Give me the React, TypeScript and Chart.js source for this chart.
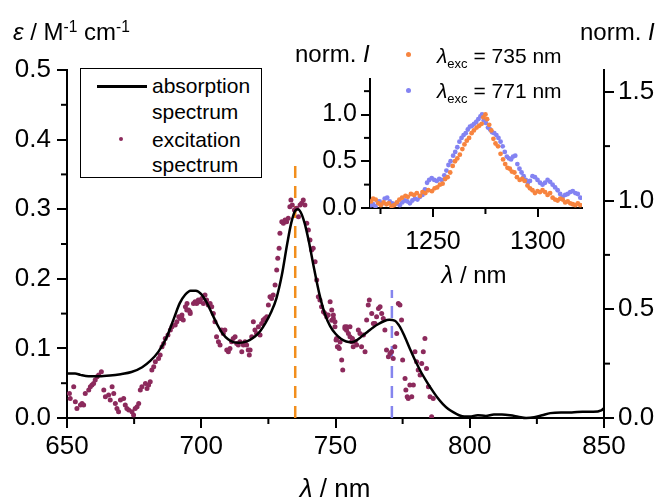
import React, { useEffect, useRef } from 'react';
import { Chart, registerables } from 'chart.js';
Chart.register(...registerables);

// ---------- main plot data ----------
const absWl = [650, 653, 655, 658, 662, 666, 670, 674, 678, 681, 684, 687, 690, 692, 694, 696, 698, 700, 702, 704, 706, 708, 710, 712, 714, 716, 718, 720, 722, 724, 726, 728, 730, 732, 733.5, 735, 736, 737, 738.5, 740, 742, 744, 746, 748, 750, 752, 754, 756, 758, 760, 762, 764, 766, 768, 770, 772, 774, 776, 778, 780, 782, 784, 786, 788, 790, 792, 794, 796, 798, 800, 803, 806, 809, 812, 815, 818, 821, 824, 827, 830, 834, 838, 842, 846, 849, 850];
const absEps = [0.064, 0.064, 0.062, 0.060, 0.060, 0.061, 0.063, 0.066, 0.073, 0.082, 0.095, 0.115, 0.145, 0.165, 0.177, 0.183, 0.183, 0.178, 0.166, 0.150, 0.134, 0.121, 0.113, 0.109, 0.108, 0.109, 0.112, 0.117, 0.125, 0.137, 0.152, 0.172, 0.205, 0.250, 0.280, 0.298, 0.300, 0.296, 0.280, 0.255, 0.215, 0.178, 0.150, 0.132, 0.121, 0.114, 0.110, 0.109, 0.112, 0.118, 0.124, 0.130, 0.135, 0.139, 0.141, 0.140, 0.131, 0.115, 0.097, 0.080, 0.065, 0.052, 0.040, 0.029, 0.020, 0.013, 0.008, 0.004, 0.002, 0.002, 0.004, 0.003, 0.005, 0.005, 0.004, 0.002, 0.000, 0.001, 0.004, 0.007, 0.008, 0.008, 0.009, 0.009, 0.011, 0.014];

const excWl = [650.9, 651.2, 652.5, 653.1, 653.7, 655.0, 655.6, 656.2, 656.8, 658.1, 658.7, 659.3, 659.9, 660.5, 661.2, 661.8, 662.8, 663.7, 664.3, 665.5, 666.1, 666.8, 667.4, 668.0, 668.6, 669.2, 669.9, 671.1, 671.7, 672.3, 673.0, 674.2, 674.8, 675.4, 676.1, 676.7, 677.3, 677.9, 679.2, 679.8, 680.4, 681.0, 681.6, 682.3, 682.9, 684.1, 684.7, 685.4, 686.0, 686.6, 687.6, 688.5, 689.1, 690.3, 690.9, 691.6, 692.2, 692.8, 694.1, 694.7, 695.3, 695.9,
  692.7, 693.3, 694.6, 695.8, 697.1, 697.7, 698.3, 698.9, 699.5, 700.2, 700.8, 701.4, 702.0, 702.6, 703.3, 703.9, 704.5, 705.1, 705.7, 706.4, 707.0, 707.6, 708.2, 708.8, 709.5, 710.1, 710.7, 711.3, 711.9, 712.6, 713.2, 713.8, 714.4, 715.1, 715.7, 716.3, 716.9, 717.5, 717.9, 718.2, 718.8, 719.4, 720.0, 720.6, 721.3, 721.9, 722.5, 723.1, 723.7, 724.4, 725.0, 725.6, 726.2, 726.8, 727.5,
  728.1, 728.5, 729.0, 729.3, 730.0, 730.6, 731.2, 731.8, 732.4, 733.0, 733.4, 733.9, 734.7, 735.5, 736.2, 736.8, 737.4, 738.0, 738.6, 739.3, 739.9, 740.5, 741.1, 741.7, 742.4, 743.0, 743.6, 744.2, 744.8, 745.5, 746.1, 746.7, 747.3, 748.6, 749.2, 749.8, 750.4, 751.0, 751.7, 753.5, 754.1, 755.4, 756.3,
  748.0, 748.6, 749.2, 749.8, 750.2, 750.7, 751.4, 752.3, 752.7, 753.5, 754.2, 754.8, 755.4, 756.0, 756.6, 757.3, 757.9, 758.5, 759.1, 759.7, 760.4, 761.0, 761.6, 762.2, 762.6, 763.5, 764.1, 764.7, 765.3, 766.0, 766.6, 767.2, 767.8, 768.4, 769.0, 769.7, 770.3, 770.9, 771.5, 772.1, 772.8, 773.4, 774.0, 774.6, 775.0, 775.9, 776.2, 776.7, 777.1, 777.7, 778.4, 779.0, 779.6, 780.2, 780.8, 781.5, 782.1, 782.7, 783.3, 783.9, 784.6, 785.2, 785.8, 786.4];
const excNorm = [0.113, 0.090, 0.144, 0.075, 0.044, 0.060, 0.067, 0.060, 0.113, 0.129, 0.144, 0.152, 0.159, 0.175, 0.190, 0.198, 0.213, 0.129, 0.098, 0.106, 0.083, 0.144, 0.113, 0.067, 0.044, 0.029, 0.083, 0.090, 0.060, 0.044, 0.037, 0.029, 0.014, 0.044, 0.052, 0.067, 0.129, 0.144, 0.159, 0.136, 0.152, 0.167, 0.221, 0.236, 0.259, 0.274, 0.290, 0.328, 0.343, 0.366, 0.382, 0.405, 0.420, 0.428, 0.443, 0.466, 0.458, 0.474, 0.512, 0.527, 0.497, 0.481,
  0.466, 0.451, 0.497, 0.489, 0.527, 0.535, 0.527, 0.543, 0.535, 0.550, 0.527, 0.566, 0.543, 0.520, 0.527, 0.512, 0.481, 0.443, 0.374, 0.351, 0.336, 0.405, 0.389, 0.405, 0.313, 0.305, 0.320, 0.351, 0.366, 0.374, 0.343, 0.336, 0.351, 0.305, 0.336, 0.351, 0.336, 0.313, 0.290, 0.313, 0.374, 0.443, 0.405, 0.389, 0.420, 0.382, 0.435, 0.451, 0.458, 0.466, 0.520, 0.558, 0.550, 0.566, 0.612,
  0.680, 0.734, 0.780, 0.849, 0.902, 0.895, 0.910, 0.902, 0.918, 0.971, 1.002, 0.979, 0.956, 0.964, 0.925, 0.979, 0.987, 1.002, 0.979, 0.895, 0.864, 0.818, 0.772, 0.780, 0.718, 0.634, 0.557, 0.542, 0.511, 0.488, 0.481, 0.465, 0.473, 0.450, 0.458, 0.419, 0.366, 0.327, 0.350, 0.419, 0.404, 0.373, 0.366,
  0.535, 0.497, 0.474, 0.443, 0.359, 0.328, 0.320, 0.267, 0.221, 0.412, 0.420, 0.389, 0.420, 0.351, 0.328, 0.351, 0.336, 0.405, 0.389, 0.328, 0.382, 0.305, 0.451, 0.520, 0.543, 0.481, 0.435, 0.435, 0.466, 0.504, 0.512, 0.481, 0.458, 0.405, 0.313, 0.282, 0.297, 0.305, 0.274, 0.328, 0.389, 0.527, 0.520, 0.451, 0.267, 0.182, 0.129, 0.098, 0.090, 0.152, 0.098, 0.152, 0.305, 0.259, 0.221, 0.198, 0.251, 0.305, 0.366, 0.228, 0.144, 0.098, 0.006, 0.090];

// excitation wavelengths marked with dashed lines: [wavelength, top of line in ε units]
const markWl = [735, 771];
const markTop = [0.37, 0.184];
const markColors = ['#f28e1c', '#8585ee'];

const xMajor = [650, 700, 750, 800, 850];
const xMinor = [675, 725, 775, 825];
const yMajor = [0, 0.1, 0.2, 0.3, 0.4, 0.5];
const yMinor = [0.05, 0.15, 0.25, 0.35, 0.45];
const y2Major = [0, 0.5, 1.0, 1.5];
const y2Minor = [0.25, 0.75, 1.25];

// ---------- inset data ----------
const em735Wl = [1220.5, 1221.5, 1222.7, 1224.0, 1225.2, 1226.5, 1227.8, 1229.0, 1230.3, 1231.5, 1232.8, 1234.0, 1235.3, 1236.9, 1238.0, 1239.5, 1241.0, 1242.3, 1243.8, 1245.0, 1246.4, 1247.8, 1249.5, 1250.8, 1252.0, 1253.3, 1254.6, 1255.8, 1257.0, 1258.2, 1259.4, 1260.5, 1261.6, 1262.8, 1264.0, 1265.0, 1266.1, 1267.2, 1268.4, 1269.5, 1270.8, 1272.0, 1273.2, 1274.0, 1275.0, 1275.8, 1276.8, 1277.8, 1278.8, 1279.8, 1281.0, 1282.2, 1283.4, 1284.4, 1285.5, 1286.6, 1287.6, 1288.8, 1290.0, 1291.3, 1292.5, 1293.7, 1295.0, 1296.2, 1297.4, 1298.6, 1299.8, 1301.0, 1302.2, 1303.4, 1304.6, 1305.8, 1307.0, 1308.2, 1309.4, 1310.6, 1311.8, 1313.0, 1314.2, 1315.4, 1316.6, 1317.8, 1319.0, 1320.2];
const em735 = [0.07, 0.10, 0.09, 0.05, 0.03, 0.06, 0.04, 0.05, 0.02, 0.03, 0.06, 0.09, 0.11, 0.13, 0.12, 0.15, 0.14, 0.16, 0.13, 0.17, 0.16, 0.19, 0.18, 0.21, 0.22, 0.25, 0.26, 0.31, 0.33, 0.38, 0.45, 0.50, 0.53, 0.57, 0.63, 0.68, 0.72, 0.75, 0.80, 0.83, 0.86, 0.88, 0.90, 0.97, 1.00, 0.95, 0.89, 0.83, 0.74, 0.69, 0.66, 0.58, 0.52, 0.47, 0.43, 0.42, 0.39, 0.38, 0.33, 0.30, 0.31, 0.29, 0.24, 0.21, 0.19, 0.16, 0.18, 0.17, 0.19, 0.17, 0.14, 0.16, 0.11, 0.09, 0.08, 0.10, 0.09, 0.06, 0.07, 0.05, 0.04, 0.03, 0.05, 0.03];
const em771Wl = [1220.5, 1221.4, 1222.6, 1223.6, 1224.6, 1225.8, 1227.0, 1228.2, 1229.4, 1230.6, 1231.8, 1233.0, 1234.2, 1235.4, 1236.6, 1237.8, 1239.0, 1240.2, 1241.4, 1242.6, 1243.8, 1245.0, 1246.2, 1247.2, 1248.2, 1249.4, 1250.6, 1251.8, 1253.0, 1254.2, 1255.4, 1256.4, 1257.4, 1258.4, 1259.6, 1260.6, 1261.6, 1262.6, 1263.6, 1264.6, 1265.6, 1266.6, 1267.6, 1268.6, 1269.6, 1270.6, 1271.6, 1272.6, 1273.4, 1274.2, 1275.2, 1276.2, 1277.2, 1278.2, 1279.2, 1280.2, 1281.2, 1282.2, 1283.2, 1284.2, 1285.2, 1286.2, 1287.2, 1288.2, 1289.2, 1290.2, 1291.2, 1292.2, 1293.2, 1294.2, 1295.2, 1296.2, 1297.4, 1298.6, 1299.8, 1301.0, 1302.2, 1303.4, 1304.6, 1305.8, 1307.0, 1308.2, 1309.4, 1310.6, 1311.8, 1313.0, 1314.2, 1315.4, 1316.6, 1317.8, 1319.0, 1320.2];
const em771 = [0.03, 0.04, 0.02, 0.07, 0.07, 0.05, 0.10, 0.11, 0.07, 0.05, 0.04, 0.05, 0.03, 0.06, 0.08, 0.07, 0.05, 0.08, 0.10, 0.09, 0.12, 0.14, 0.20, 0.27, 0.30, 0.32, 0.30, 0.29, 0.31, 0.30, 0.35, 0.40, 0.46, 0.50, 0.56, 0.60, 0.65, 0.71, 0.75, 0.78, 0.80, 0.84, 0.87, 0.88, 0.90, 0.92, 0.95, 0.98, 1.00, 0.94, 0.91, 0.86, 0.84, 0.81, 0.80, 0.78, 0.75, 0.71, 0.66, 0.60, 0.55, 0.53, 0.52, 0.55, 0.56, 0.47, 0.42, 0.38, 0.34, 0.30, 0.27, 0.29, 0.34, 0.33, 0.30, 0.27, 0.25, 0.27, 0.30, 0.28, 0.25, 0.22, 0.19, 0.15, 0.12, 0.14, 0.15, 0.17, 0.18, 0.16, 0.15, 0.11];

const inXMajor = [1250, 1300];
const inXMinor = [1225, 1275];
const inYMajor = [0, 0.5, 1.0];
const inYMinor = [0.25, 0.75, 1.25];

const FONT = "'Liberation Sans', Arial, sans-serif";
const MAROON = '#8c2a5c';
const ORANGE = '#f7843f';
const PURPLE = '#8383f2';

const minorTicks = {
  id: 'minorTicks',
  afterDraw(chart: any, _args: any, opts: any) {
    const ctx = chart.ctx;
    ctx.save();
    ctx.strokeStyle = '#000';
    ctx.lineWidth = 2;
    for (const s of opts.specs || []) {
      const sc = chart.scales[s.id];
      for (const v of s.values) {
        const p = sc.getPixelForValue(v);
        ctx.beginPath();
        if (s.side === 'bottom') { ctx.moveTo(p, sc.top); ctx.lineTo(p, sc.top + s.len); }
        else if (s.side === 'left') { ctx.moveTo(sc.right, p); ctx.lineTo(sc.right - s.len, p); }
        else { ctx.moveTo(sc.left, p); ctx.lineTo(sc.left + s.len, p); }
        ctx.stroke();
      }
    }
    ctx.restore();
  },
};

function axisStyle(tickLen: number, size: number, pad: number, fmt: (v: number) => string) {
  return {
    grid: { display: true, drawOnChartArea: false, drawTicks: true, tickLength: tickLen, lineWidth: 2, color: '#000' },
    border: { display: true, color: '#000', width: 2 },
    ticks: { color: '#000', font: { family: FONT, size }, padding: pad, maxRotation: 0, autoSkip: false, callback: (v: any) => fmt(Number(v)) },
  };
}
const int = (v: number) => String(Math.round(v));
const one = (v: number) => v.toFixed(1);

const abs = (p: any) => ({ position: 'absolute', ...p });

export default function App() {
  const mainRef = useRef<HTMLCanvasElement>(null);
  const insetRef = useRef<HTMLCanvasElement>(null);

  useEffect(() => {
    const markSets = markWl.map((w, i) => ({
      type: 'line',
      data: [{ x: w, y: 0 }, { x: w, y: markTop[i] }],
      borderColor: markColors[i],
      borderWidth: 2.5,
      borderDash: [12, 8],
      pointRadius: 0,
      yAxisID: 'y',
      clip: false,
    }));
    const main = new Chart(mainRef.current!, {
      type: 'scatter',
      data: {
        datasets: [
          {
            type: 'line',
            data: absWl.map((w, i) => ({ x: w, y: absEps[i] })),
            borderColor: '#000',
            borderWidth: 2.5,
            pointRadius: 0,
            cubicInterpolationMode: 'monotone',
            yAxisID: 'y',
            clip: 4,
          },
          {
            type: 'scatter',
            data: excWl.map((w, i) => ({ x: w, y: excNorm[i] })),
            backgroundColor: MAROON,
            borderColor: MAROON,
            borderWidth: 0,
            pointRadius: 2.5,
            yAxisID: 'y2',
          },
          ...markSets,
        ] as any,
      },
      options: {
        responsive: false,
        animation: false,
        layout: { padding: { top: 70, left: 0, right: 0, bottom: 0 } },
        plugins: {
          legend: { display: false },
          tooltip: { enabled: false },
          minorTicks: {
            specs: [
              { id: 'x', values: xMinor, side: 'bottom', len: 6 },
              { id: 'y', values: yMinor, side: 'left', len: 6 },
              { id: 'y2', values: y2Minor, side: 'right', len: 6 },
            ],
          },
        } as any,
        scales: {
          x: {
            type: 'linear', min: 650, max: 850, position: 'bottom',
            ...axisStyle(10, 26, 3, int),
            afterBuildTicks: (a: any) => { a.ticks = xMajor.map((v) => ({ value: v })); },
            afterFit: (a: any) => { a.height = 83; },
          },
          y: {
            type: 'linear', min: 0, max: 0.5, position: 'left',
            ...axisStyle(10, 26, 6, one),
            afterBuildTicks: (a: any) => { a.ticks = yMajor.map((v) => ({ value: v })); },
            afterFit: (a: any) => { a.width = 67; },
          },
          y2: {
            type: 'linear', min: 0, max: 1.6, position: 'right',
            ...axisStyle(10, 26, 4, one),
            afterBuildTicks: (a: any) => { a.ticks = y2Major.map((v) => ({ value: v })); },
            afterFit: (a: any) => { a.width = 63; },
          },
        },
      } as any,
      plugins: [minorTicks],
    });

    const inset = new Chart(insetRef.current!, {
      type: 'scatter',
      data: {
        datasets: [
          {
            data: em735Wl.map((w, i) => ({ x: w, y: em735[i] })),
            backgroundColor: ORANGE, borderWidth: 0, pointRadius: 2.4,
          },
          {
            data: em771Wl.map((w, i) => ({ x: w, y: em771[i] })),
            backgroundColor: PURPLE, borderWidth: 0, pointRadius: 2.4,
          },
        ],
      },
      options: {
        responsive: false,
        animation: false,
        layout: { padding: { top: 10, left: 0, right: 8, bottom: 0 } },
        plugins: {
          legend: { display: false },
          tooltip: { enabled: false },
          minorTicks: {
            specs: [
              { id: 'x', values: inXMinor, side: 'bottom', len: 6 },
              { id: 'y', values: inYMinor, side: 'left', len: 6 },
            ],
          },
        } as any,
        scales: {
          x: {
            type: 'linear', min: 1220, max: 1321, position: 'bottom',
            ...axisStyle(9, 25, 10, int),
            afterBuildTicks: (a: any) => { a.ticks = inXMajor.map((v) => ({ value: v })); },
            afterFit: (a: any) => { a.height = 52; },
          },
          y: {
            type: 'linear', min: 0, max: 1.38, position: 'left',
            ...axisStyle(9, 25, 4, one),
            afterBuildTicks: (a: any) => { a.ticks = inYMajor.map((v) => ({ value: v })); },
            afterFit: (a: any) => { a.width = 80; },
          },
        },
      } as any,
      plugins: [minorTicks],
    });

    return () => { main.destroy(); inset.destroy(); };
  }, []);

  const txt = (size: number, left: number, baseline: number, extra: any = {}) =>
    abs({ left, top: baseline - 0.85 * size, fontSize: size, lineHeight: '1', fontFamily: FONT, whiteSpace: 'nowrap', color: '#000', ...extra });
  const sup = { fontSize: '0.65em', position: 'relative', top: '-0.5em' } as any;
  const sub = { fontSize: '0.62em', position: 'relative', top: '0.35em' } as any;
  const dot = (cx: number, cy: number, r: number, c: string) =>
    abs({ left: cx - r, top: cy - r, width: 2 * r, height: 2 * r, borderRadius: '50%', background: c });

  return (
    <div style={abs({ left: 0, top: 0, width: 667, height: 501, background: '#fff', overflow: 'hidden' })}>
      <canvas ref={mainRef} width={667} height={501} style={abs({ left: 0, top: 0, width: 667, height: 501 })} />
      <canvas ref={insetRef} width={300} height={200} style={abs({ left: 290, top: 60, width: 300, height: 200 })} />

      {/* axis titles */}
      <div style={txt(24, 13, 40)}><i>ε</i> / M<span style={sup}>-1</span> cm<span style={sup}>-1</span></div>
      <div style={txt(24, 580, 40)}>norm. <i>I</i></div>
      <div style={txt(26, 335, 497, { transform: 'translateX(-50%)' })}><i>λ</i> / nm</div>
      <div style={txt(24, 295, 62)}>norm. <i>I</i></div>
      <div style={txt(24, 474, 283, { transform: 'translateX(-50%)' })}><i>λ</i> / nm</div>

      {/* inset legend */}
      <div style={dot(408, 54, 2.5, ORANGE)} />
      <div style={txt(21, 437, 63)}><i>λ</i><span style={sub}>exc</span> = 735 nm</div>
      <div style={dot(408, 90, 2.5, PURPLE)} />
      <div style={txt(21, 437, 98)}><i>λ</i><span style={sub}>exc</span> = 771 nm</div>

      {/* main legend */}
      <div style={abs({ left: 80, top: 68, width: 180, height: 108, border: '1.5px solid #000', background: '#fff' })} />
      <div style={abs({ left: 97, top: 85, width: 50, height: 2.5, background: '#000' })} />
      <div style={txt(21, 152, 93)}>absorption</div>
      <div style={txt(21, 152, 119)}>spectrum</div>
      <div style={dot(121, 139, 2.2, MAROON)} />
      <div style={txt(21, 152, 147)}>excitation</div>
      <div style={txt(21, 152, 172)}>spectrum</div>
    </div>
  );
}
